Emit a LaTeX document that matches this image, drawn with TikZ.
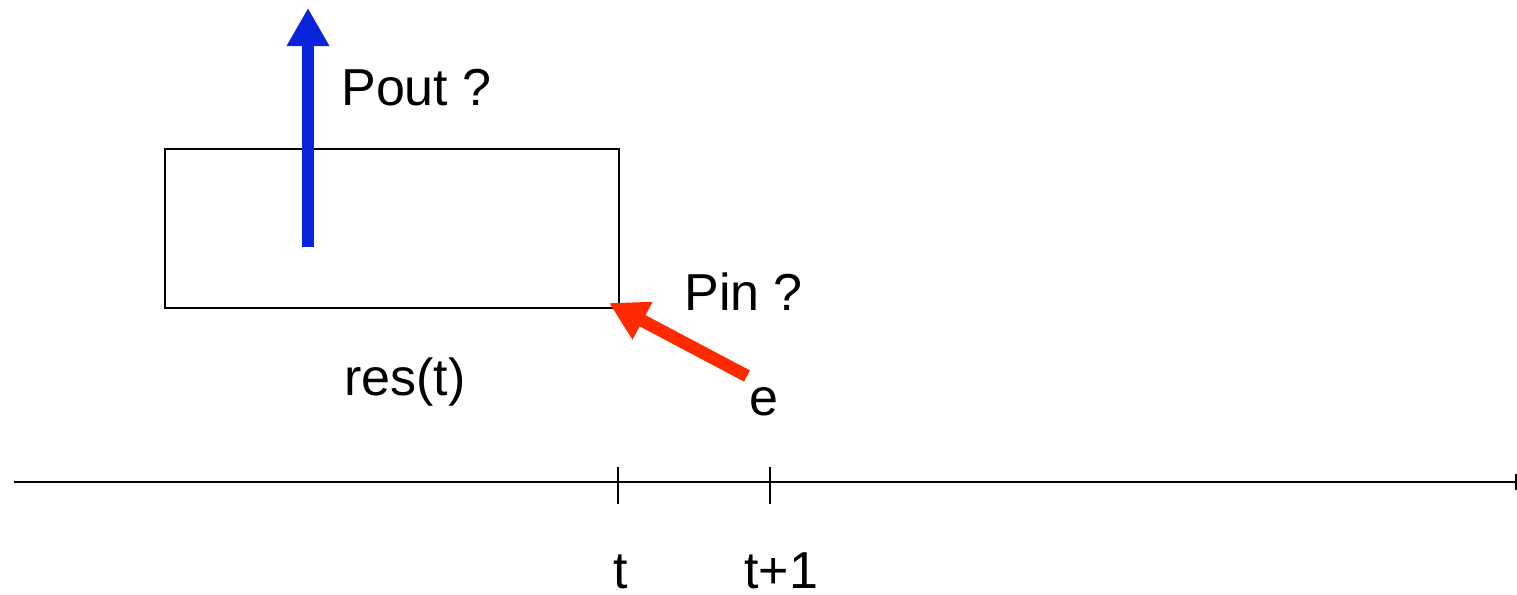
\documentclass[tikz,border=0pt]{standalone}
\usepackage{fontspec}
\setmainfont{Liberation Sans}
\usetikzlibrary{arrows.meta}
\definecolor{myblue}{RGB}{8,36,220}
\definecolor{myred}{RGB}{255,42,0}
\begin{document}
\begin{tikzpicture}[x=0.5pt,y=-0.5pt,
  lbl/.style={anchor=base west,inner sep=0pt,font=\fontsize{26}{30}\selectfont},
  thin line/.style={line width=1pt,black},
  bigarrow/.style={line width=6.3pt,-{Triangle[length=19pt,width=20pt]}}]
\useasboundingbox (0,0) rectangle (1517,595);
% box
\node[draw,thin line,minimum width=227pt,minimum height=79.5pt,inner sep=0pt,outer sep=0pt] (box) at (392,228.5) {};
\coordinate (boxcorner) at (609,303);
% axis
\coordinate (axL) at (14,482);
\coordinate (axR) at (1516,482);
\draw[thin line] (axL) -- (axR);
\draw[thin line] (1516,474) -- (1516,490);
\coordinate (t0) at (618,482);
\coordinate (t1) at (770,482);
\draw[thin line] (618,467) -- (618,504);
\draw[thin line] (770,467) -- (770,504);
% labels
\node[lbl] (pout) at (341,105) {Pout ?};
\node[lbl] (pin) at (684,310) {Pin ?};
\node[lbl] (res) at (344,395) {res(t)};
\node[lbl] (e) at (749,415) {e};
\node[lbl] (tl) at (613,588) {t};
\node[lbl] (tl1) at (744,588) {t+1};
% arrows
\coordinate (bstart) at (308,247);
\coordinate (bend) at (308,8);
\draw[bigarrow,myblue] (bstart) -- (bend);
\coordinate (rstart) at (747,376);
\draw[bigarrow,myred] (rstart) -- (boxcorner);
\end{tikzpicture}
\end{document}
